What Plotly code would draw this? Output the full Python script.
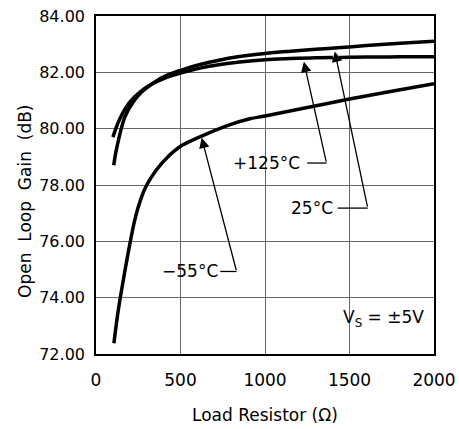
import plotly.graph_objects as go

# Data
r_125 = [100, 142, 201, 260, 320, 400, 500, 615, 734, 850, 1000, 1150, 1300, 1450, 1600, 1800, 2000]
g_125 = [79.7, 80.36, 80.95, 81.3, 81.55, 81.78, 81.97, 82.15, 82.28, 82.37, 82.45, 82.49, 82.52, 82.53, 82.54, 82.55, 82.55]

r_25 = [105, 122, 171, 220, 270, 320, 400, 500, 615, 734, 850, 1000, 1150, 1300, 1450, 1600, 1800, 2000]
g_25 = [78.7, 79.3, 80.42, 80.95, 81.3, 81.54, 81.84, 82.07, 82.28, 82.44, 82.56, 82.67, 82.75, 82.82, 82.88, 82.95, 83.03, 83.1]

r_m55 = [106, 132, 172, 201, 231, 265, 300, 359, 420, 507, 615, 773, 910, 1000, 1250, 1500, 1750, 2000]
g_m55 = [72.38, 73.56, 74.98, 75.93, 76.8, 77.5, 78.0, 78.55, 78.97, 79.4, 79.71, 80.1, 80.35, 80.45, 80.75, 81.05, 81.33, 81.6]

x_ticks = [0, 500, 1000, 1500, 2000]
y_ticks = [72, 74, 76, 78, 80, 82, 84]

FONT = "DejaVu Sans"

fig = go.Figure()
for r, g, name in [(r_125, g_125, "+125°C"), (r_25, g_25, "25°C"), (r_m55, g_m55, "−55°C")]:
    fig.add_trace(go.Scatter(x=r, y=g, mode="lines", name=name,
                             line=dict(color="black", width=3.5, shape="spline", smoothing=1.0),
                             showlegend=False, hoverinfo="skip"))

# small white gap in +125°C curve where the 25°C arrow passes
fig.add_shape(type="line", x0=1416, y0=82.66, x1=1427, y1=82.36,
              line=dict(color="white", width=6), layer="above")

# leader horizontals
for x0, x1, y in [(1250, 1364, 78.78), (1430, 1608, 77.18), (735, 832, 74.93)]:
    fig.add_shape(type="line", x0=x0, x1=x1, y0=y, y1=y,
                  line=dict(color="black", width=1.3), layer="above")

# arrows (head at curve, tail at elbow)
for tipx, tipy, tx, ty in [(1230, 82.38, 1364, 78.78), (1413, 82.74, 1608, 77.18), (625, 79.68, 832, 74.93)]:
    fig.add_annotation(x=tipx, y=tipy, ax=tx, ay=ty, xref="x", yref="y", axref="x", ayref="y",
                       text="", showarrow=True, arrowhead=2, arrowsize=1.6, arrowwidth=1.3,
                       arrowcolor="black")

# labels
for txt, x, y in [("+125°C", 1011, 78.78), ("25°C", 1277, 77.18), ("−55°C", 556, 74.93)]:
    fig.add_annotation(x=x, y=y, xref="x", yref="y", text=txt, showarrow=False,
                       font=dict(family=FONT, size=17, color="black"),
                       xanchor="center", yanchor="middle")

fig.add_annotation(x=1950, y=73.25, xref="x", yref="y", text="V<sub>S</sub> = ±5V",
                   showarrow=False, xanchor="right", yanchor="middle",
                   font=dict(family=FONT, size=17, color="black"))

# axis titles
fig.add_annotation(x=0.5, y=-0.179, xref="paper", yref="paper", text="Load Resistor (Ω)",
                   showarrow=False, xanchor="center", yanchor="middle",
                   font=dict(family=FONT, size=17, color="black"))
fig.add_annotation(x=-0.21, y=0.45, xref="paper", yref="paper", text="Open  Loop  Gain  (dB)",
                   showarrow=False, xanchor="center", yanchor="middle", textangle=-90,
                   font=dict(family=FONT, size=17, color="black"))

fig.update_layout(
    width=459, height=429, autosize=False,
    margin=dict(l=96, r=25, t=16, b=75, autoexpand=False),
    paper_bgcolor="white", plot_bgcolor="white",
)
fig.update_xaxes(range=[0, 2000], tickvals=x_ticks, ticktext=[str(v) for v in x_ticks],
                 showgrid=True, gridcolor="#666", gridwidth=1.2, automargin=False,
                 showline=True, linecolor="black", linewidth=1.6, mirror=True,
                 ticks="", ticklabelstandoff=10, zeroline=False,
                 tickfont=dict(family=FONT, size=17, color="black"))
fig.update_yaxes(range=[72, 84], tickvals=y_ticks, ticktext=[f"{v:.2f}" for v in y_ticks],
                 showgrid=True, gridcolor="#666", gridwidth=1.2, automargin=False,
                 showline=True, linecolor="black", linewidth=1.6, mirror=True,
                 ticks="", ticklabelstandoff=6, zeroline=False,
                 tickfont=dict(family=FONT, size=16, color="black"))

fig.write_html("out.html", config={"displayModeBar": False, "responsive": False},
               post_script="document.body.style.margin='0';document.body.style.overflow='hidden';")
